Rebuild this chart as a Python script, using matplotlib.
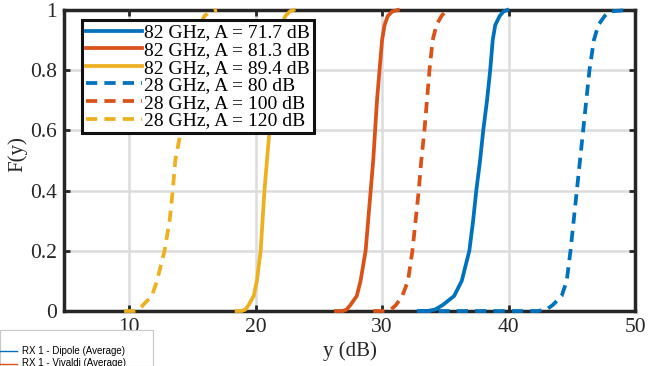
import matplotlib
matplotlib.use('Agg')
import matplotlib.pyplot as plt
from matplotlib.patches import Rectangle
from matplotlib.lines import Line2D

# cumulative probability levels shared by all curves
f_levels = [0, 0, 0.005, 0.02, 0.05, 0.1, 0.2, 0.3, 0.4, 0.5, 0.6, 0.7, 0.8, 0.9, 0.95, 0.98, 0.995, 1]

# y (dB) at each level
y_82_717 = [32.9, 33.6, 34.2, 34.8, 35.7, 36.3, 36.9, 37.2, 37.45, 37.75, 38.0, 38.3, 38.55, 38.75, 38.95, 39.3, 39.6, 39.9]
y_82_813 = [26.35, 26.9, 27.2, 27.5, 28.0, 28.3, 28.7, 28.9, 29.1, 29.3, 29.45, 29.6, 29.8, 30.0, 30.2, 30.45, 30.8, 31.25]
y_82_894 = [18.5, 18.9, 19.2, 19.45, 19.85, 20.1, 20.4, 20.55, 20.7, 20.9, 21.1, 21.3, 21.5, 21.8, 22.05, 22.35, 22.7, 23.0]
y_28_80 = [33.0, 42.3, 43.0, 43.5, 44.2, 44.6, 44.9, 45.15, 45.4, 45.65, 45.9, 46.15, 46.4, 46.75, 47.1, 47.6, 48.0, 49.4]
y_28_100 = [29.3, 30.2, 30.7, 31.1, 31.6, 32.05, 32.4, 32.65, 32.9, 33.1, 33.35, 33.55, 33.75, 34.0, 34.3, 34.7, 35.0, 35.3]
y_28_120 = [9.6, 10.4, 10.8, 11.1, 11.8, 12.2, 12.8, 13.2, 13.45, 13.65, 14.1, 14.5, 14.9, 15.3, 15.6, 15.95, 16.4, 16.95]

labels = ['82 GHz, A = 71.7 dB', '82 GHz, A = 81.3 dB', '82 GHz, A = 89.4 dB',
          '28 GHz, A = 80 dB', '28 GHz, A = 100 dB', '28 GHz, A = 120 dB']
series = [y_82_717, y_82_813, y_82_894, y_28_80, y_28_100, y_28_120]

blue = '#0072BD'
orange = '#D95319'
yellow = '#EDB120'
colors = [blue, orange, yellow, blue, orange, yellow]
styles = ['-', '-', '-', '--', '--', '--']

plt.rcParams['font.family'] = 'Liberation Serif'

fig = plt.figure(figsize=(6.52, 3.66), dpi=100)
ax = fig.add_axes([64 / 652, 55 / 366, 571 / 652, 301 / 366])

for ys, lab, c, ls in zip(series, labels, colors, styles):
    line, = ax.plot(ys, f_levels, color=c, linestyle=ls, linewidth=2.7, label=lab,
                    zorder=3, clip_on=False)
    if ls == '--':
        line.set_dashes([3.0, 1.9])

ax.set_xlim(4.85, 50)
ax.set_ylim(0, 1)
ax.set_xticks([10, 20, 30, 40, 50])
ax.set_yticks([0, 0.2, 0.4, 0.6, 0.8, 1])
ax.set_yticklabels(['0', '0.2', '0.4', '0.6', '0.8', '1'])
ax.grid(True, color='#dcdcdc', linewidth=1.8)
ax.set_axisbelow(True)
ax.tick_params(direction='in', length=4, width=2, top=True, right=True,
               labelsize=15.5, pad=5, colors='#262626', labelcolor='#262626')
for s in ax.spines.values():
    s.set_linewidth(2.5)
    s.set_color('#262626')

ax.set_xlabel('y (dB)', fontsize=15, labelpad=3, color='#262626')
fig.text(18 / 652, 0.58, 'F(y)', rotation=90, fontsize=15, ha='center', va='center',
         color='#262626')

leg = ax.legend(loc='upper left', bbox_to_anchor=(0.0315, 0.967), borderaxespad=0,
                fontsize=14, handlelength=2.9, handletextpad=0.1, labelspacing=0.0,
                borderpad=0.2, fancybox=False, framealpha=1, edgecolor='#111111')
leg.get_frame().set_linewidth(2.2)
for h in leg.get_lines():
    h.set_linewidth(2.7)

# leftover legend of a neighbouring figure at the bottom-left corner
fig.patches.append(Rectangle((0, 0), 153 / 652, 36 / 366, transform=fig.transFigure,
                             facecolor='white', edgecolor='#c8c8c8', linewidth=0.8,
                             zorder=10))
fig.lines.append(Line2D([0, 17 / 652], [15 / 366, 15 / 366], transform=fig.transFigure,
                        color=blue, linewidth=1, zorder=11))
fig.lines.append(Line2D([0, 17 / 652], [2 / 366, 2 / 366], transform=fig.transFigure,
                        color=orange, linewidth=1, zorder=11))
fig.text(22 / 652, 15 / 366, 'RX 1 - Dipole (Average)', fontsize=7, family='Liberation Sans',
         va='center', zorder=11)
fig.text(22 / 652, 3 / 366, 'RX 1 - Vivaldi (Average)', fontsize=7, family='Liberation Sans',
         va='center', zorder=11)

fig.savefig('out.png', dpi=100)
